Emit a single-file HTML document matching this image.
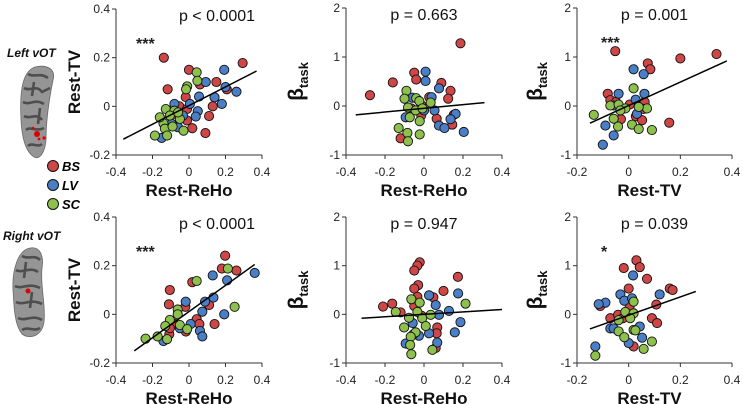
<!DOCTYPE html>
<html><head><meta charset="utf-8">
<style>
body{margin:0;background:#fff;}
svg{display:block;font-family:"Liberation Sans",sans-serif;}
</style></head>
<body>
<svg id="fig" width="743" height="404" viewBox="0 0 743 404">
  <g>
    <text x="7" y="57" font-size="12" font-weight="bold" font-style="italic" fill="#111">Left vOT</text>
    <path d="M35,67 C48,64 56,70 53,80 C50,95 46,120 46,140 C45,152 40,160 34,157 C26,152 22,140 21,120 C20,100 20,72 35,67 Z" fill="#959595" stroke="#6a6a6a" stroke-width="0.8"/>
    <path d="M28,74 C34,78 40,72 48,78 M24,88 C30,92 36,84 42,92 L50,88 M23,102 C30,106 34,98 44,104 M24,116 C30,120 36,112 42,120 M26,130 C30,126 36,132 44,128 M28,146 C32,142 38,148 42,144 M34,82 L32,96 M40,108 L38,124" stroke="#4e4e4e" stroke-width="2.6" fill="none"/>
    <circle cx="37" cy="134" r="3" fill="#e00000"/>
    <circle cx="33" cy="128" r="1.3" fill="#e00000"/><circle cx="44" cy="138" r="1.6" fill="#e00000"/><circle cx="39" cy="139" r="1.4" fill="#e00000"/>
  </g>
  <g>
    <g><circle cx="53" cy="166" r="5.5" fill="#cf4646" stroke="#111" stroke-width="1"/><text x="62" y="171" font-size="13" font-weight="bold" font-style="italic">BS</text></g>
    <g><circle cx="53" cy="185" r="5.5" fill="#4a7ec6" stroke="#111" stroke-width="1"/><text x="62" y="190" font-size="13" font-weight="bold" font-style="italic">LV</text></g>
    <g><circle cx="53" cy="204" r="5.5" fill="#8dc04c" stroke="#111" stroke-width="1"/><text x="62" y="209" font-size="13" font-weight="bold" font-style="italic">SC</text></g>
  </g>
  <g>
    <text x="3" y="240" font-size="12" font-weight="bold" font-style="italic" fill="#111">Right vOT</text>
    <path d="M30,248 C40,246 44,256 42,268 C40,285 46,305 44,322 C42,336 30,340 22,334 C14,324 14,305 13,290 C12,270 18,250 30,248 Z" fill="#959595" stroke="#6a6a6a" stroke-width="0.8"/>
    <path d="M22,256 C28,260 34,254 40,260 M16,270 C22,274 30,266 38,272 M15,286 C22,290 28,282 40,288 M16,302 C24,306 30,298 42,304 M18,318 C26,322 32,314 42,320 M22,330 C28,326 34,332 40,328 M26,262 L24,278 M32,292 L30,308" stroke="#4e4e4e" stroke-width="2.6" fill="none"/>
    <circle cx="28" cy="291" r="2.5" fill="#e00000"/>
  </g>
  <g id="panels"></g>
</svg>
<script>
// ---------- data ----------
const panelTitles = ["p < 0.0001","p = 0.663","p = 0.001","p < 0.0001","p = 0.947","p = 0.039"];
const panelStars = ["***","","***","***","","*"];
const xLabels = ["Rest-ReHo","Rest-ReHo","Rest-TV","Rest-ReHo","Rest-ReHo","Rest-TV"];
const yLabels = ["Rest-TV","beta","beta","Rest-TV","beta","beta"];
const xTicksReHo = [-0.4,-0.2,0,0.2,0.4];
const xTicksTV = [-0.2,0,0.2,0.4];
const yTicksTV = [-0.2,0,0.2,0.4];
const yTicksBeta = [-1,0,1,2];
const xTickLabelsReHo = ["-0.4","-0.2","0","0.2","0.4"];
const xTickLabelsTV = ["-0.2","0","0.2","0.4"];
const yTickLabelsTV = ["-0.2","0","0.2","0.4"];
const yTickLabelsBeta = ["-1","0","1","2"];
const fitLineX = [[-0.36,0.37],[-0.35,0.31],[-0.15,0.38],[-0.3,0.36],[-0.32,0.4],[-0.15,0.26]];
const fitLineY = [[-0.135,0.145],[-0.18,0.07],[-0.35,0.92],[-0.15,0.205],[-0.08,0.1],[-0.3,0.47]];

const p1BS=[[-0.138,0.2],[0.294,0.178],[0,0.15],[-0.117,0.07],[0.06,0.09],[0.15,0.1],[0.207,0.07],[-0.018,0.038],[0.13,0],[0.11,-0.04],[-0.053,0],[-0.011,-0.011],[-0.077,-0.031],[-0.011,-0.058],[0.018,-0.09],[0.09,-0.11]];
const p1LV=[[0.193,0.15],[0.092,0.1],[0.2,0.079],[0.26,0.06],[0.055,0.04],[0.14,0.037],[0.18,0.01],[-0.08,0.01],[0.005,0.01],[0.048,-0.02],[0.037,-0.042],[-0.033,-0.038],[-0.06,-0.086],[-0.15,-0.13],[-0.095,-0.072]];
const p1SC=[[0.042,0.14],[0.046,0.105],[-0.01,0.082],[-0.016,0.07],[-0.127,-0.011],[-0.08,-0.018],[-0.105,-0.038],[-0.05,-0.052],[-0.14,-0.07],[-0.132,-0.092],[-0.09,-0.083],[-0.03,-0.1],[-0.187,-0.12],[-0.12,-0.12],[-0.06,-0.025],[-0.16,-0.045]];

const p2BS=[[-0.277,0.22],[-0.16,0.48],[0.187,1.28],[-0.05,0.68],[-0.04,0.54],[0.089,0.47],[0.136,0.31],[0.124,0.15],[0.027,0.18],[-0.014,0.02],[-0.014,-0.19],[-0.065,-0.05],[0.065,-0.26],[0.153,-0.18],[0.145,-0.38],[-0.12,-0.66]];
const p2LV=[[0.008,0.7],[0.008,0.51],[0.077,0.36],[0.039,0.18],[0.054,-0.09],[0.077,-0.4],[0.105,-0.45],[0.162,-0.16],[0.136,-0.27],[0.204,-0.53],[-0.094,-0.23],[-0.06,0.17],[0,-0.09]];
const p2SC=[[-0.09,0.31],[-0.1,0.15],[-0.04,0.16],[-0.024,0.1],[-0.082,-0.03],[-0.073,-0.23],[-0.022,-0.31],[-0.13,-0.45],[-0.085,-0.55],[-0.082,-0.72],[-0.022,-0.58],[0.034,0.07],[-0.043,-0.09],[-0.008,-0.05]];

const p3BS=[[-0.052,1.12],[0.34,1.06],[0.2,0.97],[0.074,0.87],[0.084,0.75],[-0.081,0.25],[-0.071,0.12],[-0.049,0.08],[0.004,0.03],[0.062,0.08],[0.058,-0.06],[0.028,-0.21],[-0.03,-0.27],[0.052,-0.29],[0.157,-0.34]];
const p3LV=[[0.019,0.75],[0.058,0.65],[-0.039,0.25],[0.061,0.25],[0.027,0.13],[-0.09,-0.4],[-0.058,-0.6],[-0.1,-0.79],[0.032,-0.16],[-0.058,0.01]];
const p3SC=[[0.019,0.36],[-0.071,0.01],[-0.039,0.03],[-0.135,-0.18],[-0.058,-0.26],[-0.041,-0.42],[0.013,-0.38],[0.039,-0.47],[0.09,-0.49],[0.071,-0.05],[-0.013,-0.05],[0.039,-0.02],[-0.032,-0.09]];

const p4BS=[[0.198,0.241],[0.18,0.188],[0.26,0.18],[0.018,0.132],[-0.105,0.1],[-0.11,0.041],[-0.02,0.031],[0.11,0.038],[0.042,-0.02],[0.057,-0.04],[0.14,-0.04],[-0.017,-0.071],[-0.108,-0.082],[-0.077,-0.04],[-0.105,-0.057]];
const p4LV=[[0.36,0.17],[0.13,0.16],[0.209,0.14],[0.134,0.069],[0.088,0.052],[-0.018,0.052],[0.073,0.011],[0.193,0],[0.06,-0.068],[0.073,-0.091],[0.009,-0.04],[-0.14,-0.11],[-0.05,-0.057]];
const p4SC=[[0.213,0.188],[0.042,0.137],[-0.062,0.02],[-0.062,0],[-0.105,-0.023],[-0.13,-0.048],[-0.05,-0.044],[-0.01,-0.061],[-0.172,-0.091],[-0.238,-0.1],[-0.12,-0.102],[0.25,0.031]];

const p5BS=[[-0.022,1.07],[-0.034,1.0],[-0.05,0.9],[-0.03,0.6],[-0.05,0.53],[-0.034,0.36],[-0.05,0.17],[-0.21,0.16],[-0.163,0.22],[-0.12,0.04],[0.1,0.48],[0.048,0.35],[0.174,0.77],[0.068,-0.27],[0.065,-0.39],[0.06,-0.69],[-0.012,-0.03]];
const p5LV=[[0.175,0.43],[0.026,0.39],[0.06,0.19],[0.128,0.07],[0.077,-0.01],[0.187,-0.16],[0.158,-0.37],[-0.058,-0.18],[-0.026,-0.44],[-0.054,-0.41],[0.026,-0.39],[0.068,-0.58],[-0.094,-0.6]];
const p5SC=[[0.213,0.22],[-0.065,0.31],[-0.022,0.24],[-0.034,0.05],[-0.145,0.05],[-0.077,-0.07],[-0.009,-0.08],[-0.102,-0.27],[0.009,-0.24],[-0.043,-0.37],[-0.068,-0.46],[-0.071,-0.63],[-0.065,-0.82],[0.043,-0.73],[0.034,-0.01]];

const p6BS=[[0.03,1.11],[0.043,0.97],[-0.019,0.95],[0.071,0.73],[0,0.53],[0.159,0.53],[0.17,0.5],[-0.11,0.17],[0.107,0.2],[0.004,0.17],[-0.071,-0.08],[-0.041,-0.01],[-0.022,-0.08],[0.09,-0.08],[0.11,-0.18],[0.019,-0.66]];
const p6LV=[[0.017,0.8],[0.12,0.41],[-0.032,0.41],[-0.017,0.28],[0.013,0.33],[-0.09,0.24],[-0.116,0.21],[0,-0.01],[0.043,-0.25],[0.052,-0.48],[0,-0.59],[-0.071,-0.29],[-0.058,-0.29],[-0.129,-0.66]];
const p6SC=[[0.019,0.26],[-0.013,0.05],[0.019,0.02],[0.006,-0.08],[-0.039,-0.12],[0.019,-0.32],[-0.039,-0.35],[-0.017,-0.47],[0.026,-0.33],[0.058,-0.71],[0.09,-0.56],[-0.129,-0.85]];

// ---------- layout ----------
const NS="http://www.w3.org/2000/svg";
const root=document.getElementById('panels');
const colors={BS:"#cf4646",LV:"#4a7ec6",SC:"#8dc04c"};
const geo=[
 {px0:116,px1:262,xmin:-0.4,xmax:0.4,py0:155,py1:9,ymin:-0.2,ymax:0.4,xt:xTicksReHo,xl:xTickLabelsReHo,yt:yTicksTV,yl:yTickLabelsTV,ytx:80},
 {px0:346,px1:502,xmin:-0.4,xmax:0.4,py0:155,py1:8,ymin:-1,ymax:2,xt:xTicksReHo,xl:xTickLabelsReHo,yt:yTicksBeta,yl:yTickLabelsBeta,ytx:303},
 {px0:577,px1:732,xmin:-0.2,xmax:0.4,py0:155,py1:8,ymin:-1,ymax:2,xt:xTicksTV,xl:xTickLabelsTV,yt:yTicksBeta,yl:yTickLabelsBeta,ytx:542},
 {px0:116,px1:262,xmin:-0.4,xmax:0.4,py0:363,py1:217,ymin:-0.2,ymax:0.4,xt:xTicksReHo,xl:xTickLabelsReHo,yt:yTicksTV,yl:yTickLabelsTV,ytx:80},
 {px0:346,px1:502,xmin:-0.4,xmax:0.4,py0:363,py1:217,ymin:-1,ymax:2,xt:xTicksReHo,xl:xTickLabelsReHo,yt:yTicksBeta,yl:yTickLabelsBeta,ytx:303},
 {px0:577,px1:732,xmin:-0.2,xmax:0.4,py0:363,py1:217,ymin:-1,ymax:2,xt:xTicksTV,xl:xTickLabelsTV,yt:yTicksBeta,yl:yTickLabelsBeta,ytx:542}
];
const series=[[p1BS,p1LV,p1SC],[p2BS,p2LV,p2SC],[p3BS,p3LV,p3SC],[p4BS,p4LV,p4SC],[p5BS,p5LV,p5SC],[p6BS,p6LV,p6SC]];
const groupNames=["BS","LV","SC"];

function mk(tag,attrs,parent){const e=document.createElementNS(NS,tag);for(const k in attrs)e.setAttribute(k,attrs[k]);parent.appendChild(e);return e;}

geo.forEach((g,i)=>{
  const sx=v=>g.px0+(v-g.xmin)/(g.xmax-g.xmin)*(g.px1-g.px0);
  const sy=v=>g.py0-(v-g.ymin)/(g.ymax-g.ymin)*(g.py0-g.py1);
  const pg=mk('g',{},root);
  
  
  const ya=mk('line',{x1:g.px0,x2:g.px0,y1:g.py0,y2:g.py1,stroke:"#333","stroke-width":1},pg);
  
  
  const xa=mk('line',{x1:g.px0,x2:g.px1,y1:g.py0,y2:g.py0,stroke:"#333","stroke-width":1},pg);
  
  
  g.yt.forEach((v,k)=>{
    mk('line',{x1:g.px0-4,x2:g.px0,y1:sy(v),y2:sy(v),stroke:"#333"},pg);
    const t=mk('text',{x:g.px0-6,y:sy(v)+4,"font-size":12,"text-anchor":"end",fill:"#222"},pg);
    t.textContent=g.yl[k];
    
    
  });
  g.xt.forEach((v,k)=>{
    mk('line',{x1:sx(v),x2:sx(v),y1:g.py0,y2:g.py0+4,stroke:"#333"},pg);
    const t=mk('text',{x:sx(v),y:g.py0+21,"font-size":12,"text-anchor":"middle",fill:"#222"},pg);
    t.textContent=g.xl[k];
    
    
  });
  const xt=mk('text',{x:(g.px0+g.px1)/2+(i%3==2?-5:0),y:g.py0+41,"font-size":17,"font-weight":"bold","text-anchor":"middle",fill:"#111"},pg);
  xt.textContent=xLabels[i];
  
  
  const cy=(g.py0+g.py1)/2;
  const yt=mk('text',{transform:`translate(${g.ytx},${cy}) rotate(-90)`,"font-size":yLabels[i]=="beta"?21:17,"font-weight":"bold","text-anchor":"middle",fill:"#111"},pg);
  if(yLabels[i]=="beta"){
    yt.textContent="β";
    const sub=mk('tspan',{"font-size":13,dy:5},yt);
    sub.textContent="task";
  } else yt.textContent=yLabels[i];
  
  
  const tt=mk('text',{x:(g.px0+g.px1)/2+(i%3==0?28:0),y:g.py1+12,"font-size":16,"text-anchor":"middle",fill:"#111"},pg);
  tt.textContent=panelTitles[i];
  
  
  if(panelStars[i]){
    const st=mk('text',{x:g.px0+(i%3==0?20:24),y:g.py1+40,"font-size":16,"font-weight":"bold",fill:"#222"},pg);
    st.textContent=panelStars[i];
    
    
  }
  series[i].forEach((pts,s)=>{
    const sg=mk('g',{},pg);
    
    
    pts.forEach(p=>{
      const c=mk('circle',{cx:sx(p[0]),cy:sy(p[1]),r:4.6,fill:colors[groupNames[s]],stroke:"#111","stroke-width":0.9},sg);
      
      
    });
  });
  const fl=mk('line',{x1:sx(fitLineX[i][0]),y1:sy(fitLineY[i][0]),x2:sx(fitLineX[i][1]),y2:sy(fitLineY[i][1]),stroke:"#000","stroke-width":1.5},pg);
  
  
});
</script>
</body></html>
